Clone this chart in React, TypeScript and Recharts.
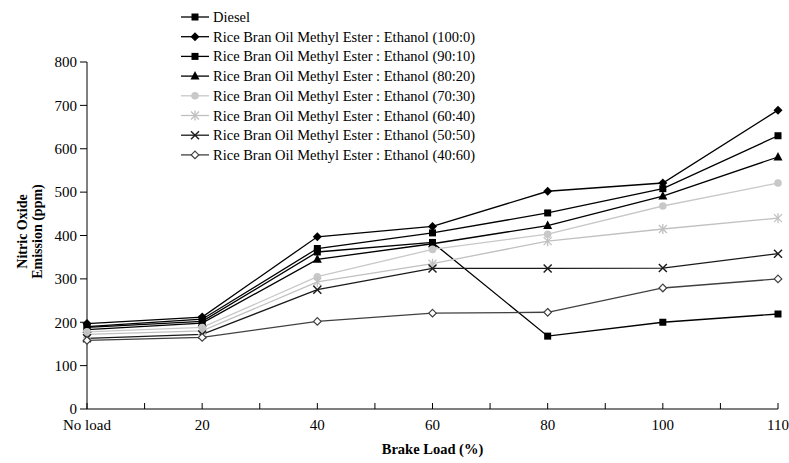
import React from 'react';
import { LineChart, Line, XAxis, YAxis, Legend } from 'recharts';

const FONT = '"Liberation Serif", "Times New Roman", serif';

const categories = ['No load', '20', '40', '60', '80', '100', '110'];
const diesel = [188, 202, 362, 384, 168, 200, 219];
const rb100 = [197, 212, 397, 421, 502, 521, 689];
const rb90 = [190, 207, 370, 406, 452, 508, 630];
const rb80 = [183, 198, 345, 381, 423, 491, 581];
const rb70 = [178, 188, 305, 368, 403, 468, 521];
const rb60 = [172, 180, 293, 335, 387, 415, 440];
const rb50 = [163, 172, 275, 324, 324, 325, 358];
const rb40 = [158, 165, 202, 221, 223, 279, 300];
const yTicks = [0, 100, 200, 300, 400, 500, 600, 700, 800];

type Shape = 'square' | 'diamond' | 'triangle' | 'circle' | 'star' | 'x' | 'openDiamond';

const SERIES: { key: string; name: string; values: number[]; color: string; shape: Shape }[] = [
  { key: 'diesel', name: 'Diesel', values: diesel, color: '#000000', shape: 'square' },
  { key: 'rb100', name: 'Rice Bran Oil Methyl Ester : Ethanol (100:0)', values: rb100, color: '#000000', shape: 'diamond' },
  { key: 'rb90', name: 'Rice Bran Oil Methyl Ester : Ethanol (90:10)', values: rb90, color: '#000000', shape: 'square' },
  { key: 'rb80', name: 'Rice Bran Oil Methyl Ester : Ethanol (80:20)', values: rb80, color: '#000000', shape: 'triangle' },
  { key: 'rb70', name: 'Rice Bran Oil Methyl Ester : Ethanol (70:30)', values: rb70, color: '#c8c8c8', shape: 'circle' },
  { key: 'rb60', name: 'Rice Bran Oil Methyl Ester : Ethanol (60:40)', values: rb60, color: '#c0c0c0', shape: 'star' },
  { key: 'rb50', name: 'Rice Bran Oil Methyl Ester : Ethanol (50:50)', values: rb50, color: '#1a1a1a', shape: 'x' },
  { key: 'rb40', name: 'Rice Bran Oil Methyl Ester : Ethanol (40:60)', values: rb40, color: '#404040', shape: 'openDiamond' },
];

const data = categories.map((c, i) => {
  const row: Record<string, any> = { x: i, label: c };
  SERIES.forEach((s) => {
    row[s.key] = s.values[i];
  });
  return row;
});

const xTicks: number[] = [];
categories.forEach((_, i) => {
  xTicks.push(i);
  if (i < categories.length - 1) xTicks.push(i + 0.5);
});

function Marker({ shape, cx, cy, color }: { shape: Shape; cx: number; cy: number; color: string }) {
  switch (shape) {
    case 'square':
      return <rect x={cx - 3.5} y={cy - 3.5} width={7} height={7} fill={color} />;
    case 'diamond':
      return <polygon points={`${cx},${cy - 4.5} ${cx + 4.5},${cy} ${cx},${cy + 4.5} ${cx - 4.5},${cy}`} fill={color} />;
    case 'triangle':
      return <polygon points={`${cx},${cy - 5} ${cx + 4.5},${cy + 3.5} ${cx - 4.5},${cy + 3.5}`} fill={color} />;
    case 'circle':
      return <circle cx={cx} cy={cy} r={3.8} fill={color} />;
    case 'star':
      return (
        <g stroke={color} strokeWidth={1.3}>
          <line x1={cx - 4} y1={cy - 4} x2={cx + 4} y2={cy + 4} />
          <line x1={cx - 4} y1={cy + 4} x2={cx + 4} y2={cy - 4} />
          <line x1={cx} y1={cy - 5} x2={cx} y2={cy + 5} />
        </g>
      );
    case 'x':
      return (
        <g stroke={color} strokeWidth={1.4}>
          <line x1={cx - 4} y1={cy - 4} x2={cx + 4} y2={cy + 4} />
          <line x1={cx - 4} y1={cy + 4} x2={cx + 4} y2={cy - 4} />
        </g>
      );
    case 'openDiamond':
      return (
        <polygon
          points={`${cx},${cy - 3.8} ${cx + 3.8},${cy} ${cx},${cy + 3.8} ${cx - 3.8},${cy}`}
          fill="#ffffff"
          stroke={color}
          strokeWidth={1.2}
        />
      );
  }
  return null;
}

function XTick(props: any) {
  const { x, y, payload } = props;
  const v = payload.value as number;
  const isMajor = Number.isInteger(v);
  return (
    <g>
      <line x1={x} x2={x} y1={y} y2={y - 6} stroke="#000" strokeWidth={1} />
      {isMajor ? (
        <text x={x} y={y + 21} textAnchor="middle" fontSize={15} fontFamily={FONT} fill="#000">
          {categories[v]}
        </text>
      ) : null}
    </g>
  );
}

function YLabel(props: any) {
  const vb = props.viewBox || { x: 0, y: 62, width: 87, height: 347 };
  const cy = vb.y + vb.height / 2 - 4;
  return (
    <g fontFamily={FONT} fontWeight="bold" fontSize={14} fill="#000">
      <text transform={`translate(27, ${cy}) rotate(-90)`} textAnchor="middle">
        Nitric Oxide
      </text>
      <text transform={`translate(42, ${cy}) rotate(-90)`} textAnchor="middle">
        Emission (ppm)
      </text>
    </g>
  );
}

function XLabel(props: any) {
  const vb = props.viewBox || { x: 87, y: 409, width: 691, height: 54 };
  return (
    <text
      x={vb.x + vb.width / 2}
      y={vb.y + 45}
      textAnchor="middle"
      fontFamily={FONT}
      fontWeight="bold"
      fontSize={14.5}
      fill="#000"
    >
      Brake Load (%)
    </text>
  );
}

function LegendContent() {
  const rowH = 19.7;
  return (
    <svg width={320} height={rowH * SERIES.length + 6} style={{ display: 'block', overflow: 'visible' }}>
      {SERIES.map((s, i) => {
        const cy = 10 + i * rowH;
        return (
          <g key={s.key}>
            <line x1={1} x2={29} y1={cy} y2={cy} stroke={s.color} strokeWidth={1.3} />
            <Marker shape={s.shape} cx={15} cy={cy} color={s.color} />
            <text x={33} y={cy + 5} fontFamily={FONT} fontSize={14.5} fill="#000">
              {s.name}
            </text>
          </g>
        );
      })}
    </svg>
  );
}

export default function App() {
  return (
    <div style={{ position: 'absolute', left: 0, top: 0, width: 789, height: 463, background: '#fff' }}>
      <LineChart width={789} height={463} data={data} margin={{ top: 62, right: 11, left: 0, bottom: 0 }}>
        <XAxis
          dataKey="x"
          type="number"
          domain={[0, 6]}
          ticks={xTicks}
          interval={0}
          allowDecimals
          tickLine={false}
          tickSize={0}
          tickMargin={0}
          tick={<XTick />}
          axisLine={{ stroke: '#000', strokeWidth: 1 }}
          height={54}
          label={{ content: XLabel }}
        />
        <YAxis
          type="number"
          domain={[0, 800]}
          ticks={yTicks}
          interval={0}
          width={87}
          tickSize={7}
          tickMargin={3}
          tickLine={{ stroke: '#000' }}
          axisLine={{ stroke: '#000', strokeWidth: 1 }}
          tick={{ fill: '#000', fontSize: 15, fontFamily: FONT }}
          label={{ content: YLabel }}
        />
        <Legend
          layout="vertical"
          align="center"
          verticalAlign="middle"
          content={<LegendContent />}
          wrapperStyle={{ position: 'absolute', left: 180, top: 7, width: 320 }}
        />
        {SERIES.map((s) => (
          <Line
            key={s.key}
            dataKey={s.key}
            name={s.name}
            stroke={s.color}
            strokeWidth={1.3}
            isAnimationActive={false}
            dot={(p: any) => <Marker key={`${s.key}-${p.index}`} shape={s.shape} cx={p.cx} cy={p.cy} color={s.color} />}
            activeDot={false}
          />
        ))}
      </LineChart>
    </div>
  );
}
